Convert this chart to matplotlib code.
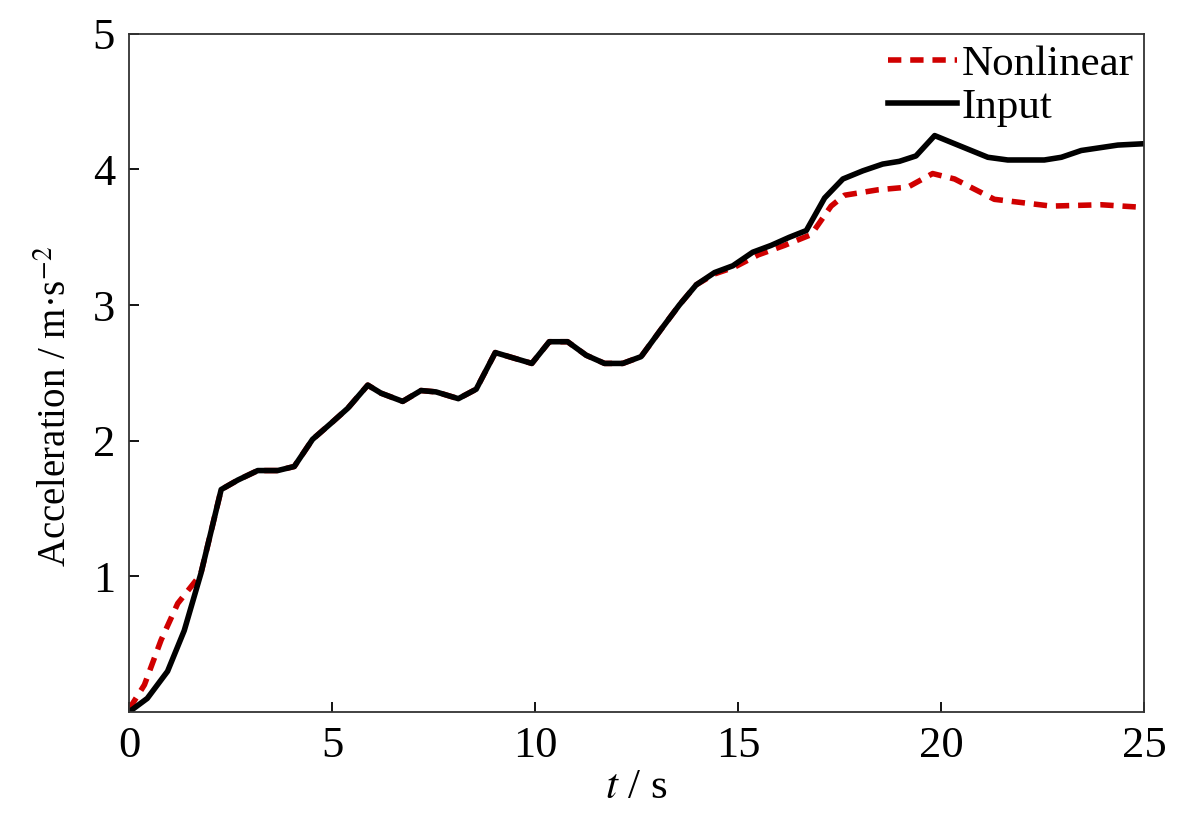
import matplotlib
matplotlib.use("Agg")
import matplotlib.pyplot as plt

plt.rcParams['font.family'] = ['Liberation Serif', 'DejaVu Serif']
plt.rcParams['mathtext.fontset'] = 'stix'

# Input acceleration (black)
t_input = [0, 0.45, 0.95, 1.36, 1.77, 2.27, 2.68, 3.17, 3.66, 4.07, 4.52, 4.98,
           5.39, 5.88, 6.21, 6.74, 7.19, 7.56, 8.11, 8.55, 9.02, 9.92, 10.35,
           10.80, 11.26, 11.71, 12.16, 12.61, 13.10, 13.55, 13.97, 14.42, 14.87,
           15.36, 15.81, 16.26, 16.68, 17.13, 17.58, 18.07, 18.56, 18.97, 19.38,
           19.84, 20.33, 21.15, 21.64, 22.54, 22.96, 23.45, 24.35, 25.0]
a_input = [0, 0.10, 0.30, 0.60, 1.02, 1.64, 1.71, 1.78, 1.78, 1.81, 2.01, 2.13,
           2.24, 2.41, 2.35, 2.29, 2.37, 2.36, 2.31, 2.38, 2.65, 2.57, 2.73,
           2.73, 2.63, 2.57, 2.57, 2.62, 2.82, 3.00, 3.15, 3.24, 3.29,
           3.39, 3.44, 3.50, 3.55, 3.79, 3.93, 3.99, 4.04, 4.06, 4.10,
           4.25, 4.19, 4.09, 4.07, 4.07, 4.09, 4.14, 4.18, 4.19]

# Nonlinear response (red dashed)
t_nonlin = [0, 0.38, 0.79, 1.20, 1.65, 1.77, 2.27, 2.68, 3.17, 3.66, 4.07, 4.52,
            4.98, 5.39, 5.88, 6.21, 6.74, 7.19, 7.56, 8.11, 8.55, 9.02, 9.92,
            10.35, 10.80, 11.26, 11.71, 12.16, 12.61, 13.10, 13.55, 13.97, 14.42,
            14.91, 15.49, 16.14, 16.80, 17.29, 17.62, 18.44, 19.18, 19.79, 20.33,
            21.31, 22.71, 23.94, 25.0]
a_nonlin = [0.02, 0.20, 0.53, 0.80, 0.97, 1.02, 1.64, 1.71, 1.78, 1.78, 1.81, 2.01,
            2.13, 2.24, 2.41, 2.35, 2.29, 2.37, 2.36, 2.31, 2.38, 2.65, 2.57,
            2.73, 2.73, 2.63, 2.57, 2.57, 2.62, 2.82, 3.00, 3.15, 3.23,
            3.28, 3.37, 3.44, 3.52, 3.73, 3.81, 3.85, 3.87, 3.97, 3.93,
            3.78, 3.73, 3.74, 3.72]

fig = plt.figure(figsize=(12, 8.16), dpi=100)
ax = fig.add_axes([0.1075, 0.1275, 0.846, 0.831])

ax.plot(t_nonlin, a_nonlin, color='#d00000', lw=4.0, ls=(0, (2.4, 1.6)),
        label='Nonlinear')
ax.plot(t_input, a_input, color='black', lw=4.0, label='Input')

ax.set_xlim(0, 25)
ax.set_ylim(0, 5)
ax.set_xticks([0, 5, 10, 15, 20, 25])
ax.set_yticks([1, 2, 3, 4, 5])
ax.tick_params(direction='in', length=7, width=1.3, labelsize=32, pad=10,
               top=False, right=False)
for s in ax.spines.values():
    s.set_linewidth(1.3)
    s.set_color('#333333')

ax.set_xlabel('$t$ / s', fontsize=31, labelpad=2)
ax.set_ylabel('Acceleration / m·s$^{-2}$', fontsize=28)
ax.yaxis.set_label_coords(-0.053, 0.45)

ax.legend(loc='upper right', frameon=False, fontsize=31, handlelength=1.6,
          handletextpad=0.1, labelspacing=0.1, borderaxespad=0.1,
          borderpad=0.15)

fig.savefig('out.png', dpi=100)
